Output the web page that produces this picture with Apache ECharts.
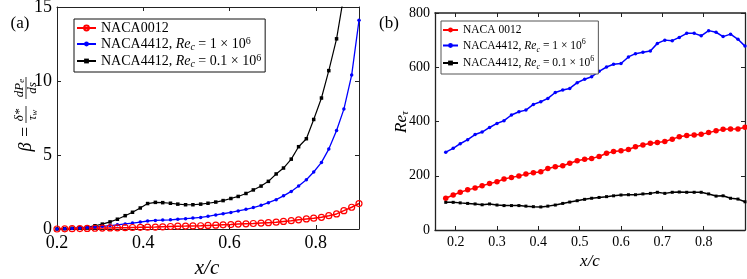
<!DOCTYPE html>
<html><head><meta charset="utf-8">
<script src="https://cdn.jsdelivr.net/npm/echarts@6/dist/echarts.min.js"></script>
<style>html,body{margin:0;padding:0;background:#fff}#c{width:747px;height:279px}</style>
</head><body><div id="c"></div>
<script>
// ---------- Panel (a) data ----------
const aX = [0.2,0.218,0.235,0.253,0.27,0.288,0.305,0.323,0.34,0.358,0.375,0.393,0.41,0.428,0.445,0.463,0.48,0.498,0.515,0.533,0.55,0.568,0.585,0.603,0.62,0.638,0.655,0.673,0.69,0.708,0.725,0.743,0.76,0.778,0.795,0.813,0.83,0.848,0.865,0.883,0.9];
const aRed = [0,0.01,0.02,0.03,0.04,0.05,0.06,0.07,0.08,0.09,0.1,0.11,0.12,0.13,0.15,0.17,0.19,0.2,0.21,0.22,0.24,0.26,0.28,0.3,0.33,0.35,0.37,0.4,0.43,0.46,0.51,0.56,0.62,0.68,0.73,0.79,0.9,1.02,1.24,1.47,1.72];
const aBlue = [0,0.02,0.04,0.07,0.1,0.14,0.18,0.23,0.28,0.34,0.4,0.47,0.54,0.58,0.6,0.62,0.66,0.7,0.74,0.78,0.86,0.95,1.03,1.12,1.22,1.33,1.45,1.6,1.78,1.98,2.24,2.54,2.9,3.33,3.85,4.5,5.4,6.65,8.1,10.4,14.1];
const aBlack = [0,0.02,0.05,0.08,0.13,0.22,0.33,0.48,0.66,0.9,1.13,1.42,1.72,1.8,1.78,1.74,1.68,1.64,1.64,1.68,1.74,1.82,1.92,2.06,2.2,2.4,2.64,2.9,3.22,3.72,4.12,4.72,5.56,6.1,7.4,8.85,10.7,12.85,15.8,19.5,24];
const aXTicks = [0.2,0.4,0.6,0.8];
const aYTicks = [0,5,10,15];

// ---------- Panel (b) data ----------
const bX = [0.176,0.194,0.211,0.229,0.247,0.264,0.282,0.3,0.317,0.335,0.353,0.37,0.388,0.406,0.423,0.441,0.459,0.476,0.494,0.512,0.529,0.547,0.565,0.582,0.6,0.618,0.635,0.653,0.671,0.688,0.706,0.724,0.741,0.759,0.777,0.794,0.812,0.83,0.847,0.865,0.883,0.9];
const bRed = [117,129,139,148,155,163,171,178,188,194,199,206,211,215,227,233,237,246,255,261,264,271,283,289,292,297,307,313,320,323,326,335,344,348,350,353,359,366,371,372,372,379];
const bBlue = [287,301,318,333,352,361,378,393,403,424,436,442,463,473,485,507,516,522,543,556,565,585,601,611,614,638,650,655,660,688,700,698,710,725,725,716,735,729,713,722,703,678];
const bBlack = [102,102,100,98,96,93,96,92,90,90,90,88,86,85,88,92,98,103,108,113,117,120,123,126,129,130,130,133,135,139,135,139,140,139,139,139,133,125,126,117,114,104];
const bXTicks = [0.2,0.3,0.4,0.5,0.6,0.7,0.8];
const bYTicks = [0,200,400,600,800];

const FF = "'Liberation Serif', 'DejaVu Serif', serif";
const nA0 = 'NACA0012', nA1 = 'NACA4412 Re1 a', nA2 = 'NACA4412 Re01 a';
const nB0 = 'NACA 0012', nB1 = 'NACA4412 Re1 b', nB2 = 'NACA4412 Re01 b';
const legendText = {};
legendText[nA0] = '{t|NACA0012}';
legendText[nA1] = '{t|NACA4412, }{i|Re}{s|c}{t| = 1 × 10}{p|6}';
legendText[nA2] = '{t|NACA4412, }{i|Re}{s|c}{t| = 0.1 × 10}{p|6}';
legendText[nB0] = '{t|NACA 0012}';
legendText[nB1] = legendText[nA1];
legendText[nB2] = legendText[nA2];

function pairs(xs, ys){ return xs.map((x,i)=>[x, ys[i]]); }
function richFor(fs){
  const sfs = Math.round(fs*0.7);
  return {
    t:{fontFamily:FF, fontSize:fs, lineHeight:16, color:'#000'},
    i:{fontFamily:FF, fontSize:fs, fontStyle:'italic', lineHeight:16, color:'#000'},
    s:{fontFamily:FF, fontSize:sfs, fontStyle:'italic', lineHeight:8, verticalAlign:'bottom', color:'#000'},
    p:{fontFamily:FF, fontSize:sfs, lineHeight:8, verticalAlign:'top', color:'#000'}
  };
}
const axColor = '#222';
function xAx(g, pos, min, max, ticks, show, fs, lw){
  return {type:'value', gridIndex:g, position:pos, min:min, max:max,
    axisLine:{show:true, onZero:false, lineStyle:{color:axColor, width:lw}},
    axisTick:{show:true, inside:true, length:4, customValues:ticks, lineStyle:{color:axColor, width:1}},
    axisLabel:{show:show, customValues:ticks, fontSize:fs, fontFamily:FF, color:'#000', margin:5},
    splitLine:{show:false}};
}
function yAx(g, pos, min, max, interval, show, fs, lw){
  return {type:'value', gridIndex:g, position:pos, min:min, max:max, interval:interval,
    axisLine:{show:true, onZero:false, lineStyle:{color:axColor, width:lw}},
    axisTick:{show:true, inside:true, length:4, lineStyle:{color:axColor, width:1}},
    axisLabel:{show:show, fontSize:fs, fontFamily:FF, color:'#000', margin:5},
    splitLine:{show:false}};
}
function ser(name, xi, yi, data, color, symbol, size, lw, hollow){
  return {type:'line', name:name, xAxisIndex:xi, yAxisIndex:yi, data:data,
    symbol:symbol, symbolSize:size, showSymbol:true, clip:true,
    lineStyle:{color:color, width:lw},
    itemStyle: hollow ? {color:'rgba(255,255,255,0)', borderColor:color, borderWidth:1.2} : {color:color},
    emphasis:{disabled:true}, z: 2};
}
const fr = (txt, sub) => ({text:'{a|'+txt+'}'+(sub?'{b|'+sub+'}':''), textAlign:'center', textVerticalAlign:'middle',
  rich:{a:{fontFamily:FF, fontSize:13, fontStyle:'italic', lineHeight:14, fill:'#000'},
        b:{fontFamily:FF, fontSize:9, fontStyle:'italic', lineHeight:6, verticalAlign:'bottom', fill:'#000'}}});

const chart = echarts.init(document.getElementById('c'), null, {renderer:'canvas'});
const option = {
  animation:false,
  backgroundColor:'#fff',
  grid:[
    {left:57, right:388, top:7, bottom:50, outerBoundsMode:'none', containLabel:false},
    {left:435, right:2, top:13, bottom:49, outerBoundsMode:'none', containLabel:false}
  ],
  xAxis:[
    xAx(0,'bottom',0.2,0.9,aXTicks,true,18,1),
    xAx(0,'top',0.2,0.9,aXTicks,false,18,1),
    xAx(1,'bottom',0.15,0.9,bXTicks,true,14,1.3),
    xAx(1,'top',0.15,0.9,bXTicks,false,14,1.6)
  ],
  yAxis:[
    yAx(0,'left',0,15,5,true,18,1),
    yAx(0,'right',0,15,5,false,18,1),
    yAx(1,'left',0,800,200,true,14,1.3),
    yAx(1,'right',0,800,200,false,14,1.3)
  ],
  legend:[
    {orient:'vertical', left:74, top:19, data:[nA0,nA1,nA2], selectedMode:false,
     itemWidth:19, itemHeight:6, itemGap:1, padding:[2,4,3,2], align:'left',
     borderColor:'#111', borderWidth:1, backgroundColor:'#fff',
     formatter:function(n){return legendText[n];}, textStyle:{fontFamily:FF, rich:richFor(14)}},
    {orient:'vertical', left:441, top:21, data:[nB0,nB1,nB2], selectedMode:false,
     itemWidth:15, itemHeight:6, itemGap:1.5, padding:[3,4,3,1], align:'left',
     borderColor:'#555', borderWidth:1, backgroundColor:'#fff',
     formatter:function(n){return legendText[n];}, textStyle:{fontFamily:FF, rich:richFor(11.5)}}
  ],
  series:[
    ser(nA2,0,0,pairs(aX,aBlack),'#000000','rect',3.5,1.2,false),
    ser(nA1,0,0,pairs(aX,aBlue),'#0000ff','circle',3.5,1.3,false),
    ser(nA0,0,0,pairs(aX,aRed),'#ff0000','circle',6,1.5,true),
    ser(nB0,2,2,pairs(bX,bRed),'#ff0000','circle',5.5,1.5,false),
    ser(nB1,2,2,pairs(bX,bBlue),'#0000ff','circle',3.5,1.5,false),
    ser(nB2,2,2,pairs(bX,bBlack),'#000000','rect',3,1.5,false)
  ],
  graphic:[
    {type:'text', x:20, y:24, style:{text:'(a)', font:'17px '+FF, fill:'#000', textAlign:'center', textVerticalAlign:'middle'}},
    {type:'text', x:389, y:24, style:{text:'(b)', font:'17px '+FF, fill:'#000', textAlign:'center', textVerticalAlign:'middle'}},
    {type:'text', x:207, y:268, style:{text:'x/c', font:'italic 21px '+FF, fill:'#000', textAlign:'center', textVerticalAlign:'middle'}},
    {type:'text', x:590, y:262, style:{text:'x/c', font:'italic 17px '+FF, fill:'#000', textAlign:'center', textVerticalAlign:'middle'}},
    {type:'text', x:402, y:122, rotation:Math.PI/2, style:{text:'{i|Re}{s|τ}', textAlign:'center', textVerticalAlign:'middle',
      rich:{i:{fontFamily:FF, fontSize:17, fontStyle:'italic', lineHeight:18, fill:'#000'}, s:{fontFamily:FF, fontSize:11, fontStyle:'italic', lineHeight:8, verticalAlign:'bottom', fill:'#000'}}}},
    {type:'group', x:26, y:153, rotation:Math.PI/2, children:[
      {type:'text', x:6, y:0, style:{text:'β', font:'italic 18px '+FF, fill:'#000', textAlign:'center', textVerticalAlign:'middle'}},
      {type:'text', x:21, y:0, style:{text:'=', font:'18px '+FF, fill:'#000', textAlign:'center', textVerticalAlign:'middle'}},
      {type:'text', x:38, y:-6.5, style:fr('δ*')},
      {type:'line', shape:{x1:30, y1:0, x2:47, y2:0}, style:{stroke:'#000', lineWidth:0.8}},
      {type:'text', x:38, y:6.5, style:fr('τ','w')},
      {type:'text', x:65, y:-6.5, style:fr('dP','e')},
      {type:'line', shape:{x1:54, y1:0, x2:76, y2:0}, style:{stroke:'#000', lineWidth:0.8}},
      {type:'text', x:65, y:6.5, style:fr('ds')}
    ]}
  ]
};
chart.setOption(option);
</script></body></html>
